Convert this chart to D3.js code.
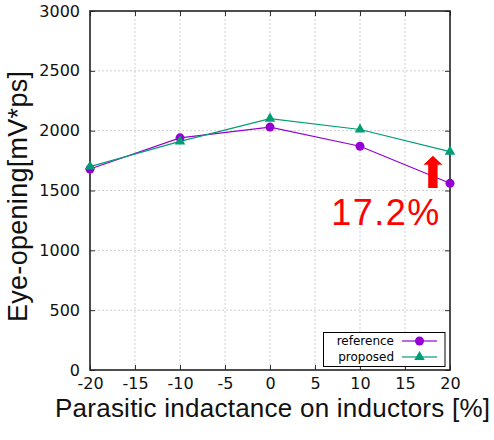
<!DOCTYPE html>
<html>
<head>
<meta charset="utf-8">
<script src="https://cdn.jsdelivr.net/npm/d3@7"></script>
<style>
  html, body { margin: 0; padding: 0; background: #fff; }
  svg { display: block; }
</style>
</head>
<body>
<svg id="chart" width="494" height="440"></svg>
<script>
// ---- data ----
const xValues = [-20, -10, 0, 10, 20];
const referenceValues = [1680, 1940, 2030, 1870, 1560];
const proposedValues = [1700, 1910, 2100, 2010, 1825];
const seriesNames = ["reference", "proposed"];
const xTicks = [-20, -15, -10, -5, 0, 5, 10, 15, 20];
const yTicks = [0, 500, 1000, 1500, 2000, 2500, 3000];
const xTitle = "Parasitic indactance on inductors [%]";
const yTitle = "Eye-opening[mV*ps]";
const annotationText = "17.2%";
const annotationPos = [18.8, 1210];
const arrowX = 18.1;
const arrowFromTo = [1520, 1790];

// ---- layout ----
const W = 494, H = 440;
const L = 90, R = 450, T = 11, B = 370;
const svg = d3.select("#chart");
const x = d3.scaleLinear().domain([-20, 20]).range([L, R]);
const y = d3.scaleLinear().domain([0, 3000]).range([B, T]);
const colors = ["#9400d3", "#009e73"];

// grid
const grid = svg.append("g");
grid.selectAll("line.gx").data(xTicks.slice(1, -1)).join("line")
  .attr("x1", d => x(d)).attr("x2", d => x(d)).attr("y1", T).attr("y2", B)
  .attr("stroke", "#cfcfcf").attr("stroke-width", 1).attr("stroke-dasharray", "2,2");
grid.selectAll("line.gy").data(yTicks.slice(1, -1)).join("line")
  .attr("y1", d => y(d)).attr("y2", d => y(d)).attr("x1", L).attr("x2", R)
  .attr("stroke", "#cfcfcf").attr("stroke-width", 1).attr("stroke-dasharray", "2,2");

// axes
const fmt = d => String(d);
const axB = svg.append("g").attr("transform", `translate(0,${B})`)
  .call(d3.axisBottom(x).tickValues(xTicks).tickFormat(fmt).tickSizeInner(-5).tickSizeOuter(0).tickPadding(8));
const axT = svg.append("g").attr("transform", `translate(0,${T})`)
  .call(d3.axisTop(x).tickValues(xTicks).tickFormat("").tickSizeInner(-5).tickSizeOuter(0));
const axL = svg.append("g").attr("transform", `translate(${L},0)`)
  .call(d3.axisLeft(y).tickValues(yTicks).tickFormat(fmt).tickSizeInner(-5).tickSizeOuter(0).tickPadding(10));
const axR = svg.append("g").attr("transform", `translate(${R},0)`)
  .call(d3.axisRight(y).tickValues(yTicks).tickFormat("").tickSizeInner(-5).tickSizeOuter(0));
[axB, axT, axL, axR].forEach(a => {
  a.select(".domain").remove();
  a.selectAll(".tick line").attr("stroke", "#333").attr("stroke-width", 1);
  a.selectAll(".tick text").attr("fill", "#111")
    .style("font-family", "'DejaVu Sans', sans-serif").style("font-size", "16px");
});

// frame
svg.append("rect").attr("x", L).attr("y", T).attr("width", R - L).attr("height", B - T)
  .attr("fill", "none").attr("stroke", "#222").attr("stroke-width", 1.6);

// series
const allSeries = [referenceValues, proposedValues];
const line = d3.line().x((d, i) => x(xValues[i])).y(d => y(d));
allSeries.forEach((vals, s) => {
  svg.append("path").datum(vals).attr("d", line)
    .attr("fill", "none").attr("stroke", colors[s]).attr("stroke-width", 1.2);
});
// markers
svg.selectAll("circle.ref").data(referenceValues).join("circle")
  .attr("cx", (d, i) => x(xValues[i])).attr("cy", d => y(d)).attr("r", 4.5)
  .attr("fill", colors[0]);
const tri = d3.symbol().type(d3.symbolTriangle).size(48);
svg.selectAll("path.prop").data(proposedValues).join("path")
  .attr("d", tri).attr("transform", (d, i) => `translate(${x(xValues[i])},${y(d)})`)
  .attr("fill", colors[1]);

// arrow annotation
const ax0 = x(arrowX), yFrom = y(arrowFromTo[0]), yTo = y(arrowFromTo[1]);
const shaftW = 4.7, headW = 9.5, headH = 9;
svg.append("path")
  .attr("d", `M${ax0 - shaftW},${yFrom} L${ax0 - shaftW},${yTo + headH} L${ax0 - headW},${yTo + headH} L${ax0},${yTo} L${ax0 + headW},${yTo + headH} L${ax0 + shaftW},${yTo + headH} L${ax0 + shaftW},${yFrom} Z`)
  .attr("fill", "#ff0000");
svg.append("text").attr("x", x(annotationPos[0])).attr("y", y(annotationPos[1]))
  .attr("text-anchor", "end").attr("fill", "#ff0000")
  .style("font-family", "'Liberation Sans', Arial, sans-serif").style("font-size", "36px")
  .attr("textLength", 108).attr("lengthAdjust", "spacing")
  .text(annotationText);

// legend
const lg = svg.append("g");
lg.append("rect").attr("x", 323.5).attr("y", 332.5).attr("width", 121.5).attr("height", 34)
  .attr("fill", "#fff").attr("stroke", "#000").attr("stroke-width", 1);
const rowY = [341, 357];
seriesNames.forEach((name, s) => {
  lg.append("text").attr("x", 394).attr("y", rowY[s] + 4).attr("text-anchor", "end")
    .attr("fill", "#000").style("font-family", "'DejaVu Sans', sans-serif").style("font-size", "12px")
    .text(name);
  lg.append("line").attr("x1", 402).attr("x2", 437).attr("y1", rowY[s]).attr("y2", rowY[s])
    .attr("stroke", colors[s]).attr("stroke-width", 2).attr("stroke-opacity", 0.6);
});
lg.append("circle").attr("cx", 419.5).attr("cy", rowY[0]).attr("r", 4.5).attr("fill", colors[0]);
lg.append("path").attr("d", tri).attr("transform", `translate(419.5,${rowY[1]})`).attr("fill", colors[1]);

// titles
svg.append("text").attr("x", 272.5).attr("y", 417).attr("text-anchor", "middle")
  .attr("fill", "#111").style("font-family", "'Liberation Sans', Arial, sans-serif").style("font-size", "26px")
  .attr("textLength", 435).attr("lengthAdjust", "spacing")
  .text(xTitle);
svg.append("text").attr("transform", `translate(27,196.5) rotate(-90)`).attr("text-anchor", "middle")
  .attr("fill", "#111").style("font-family", "'Liberation Sans', Arial, sans-serif").style("font-size", "27px")
  .attr("textLength", 251).attr("lengthAdjust", "spacing")
  .text(yTitle);
</script>
</body>
</html>
